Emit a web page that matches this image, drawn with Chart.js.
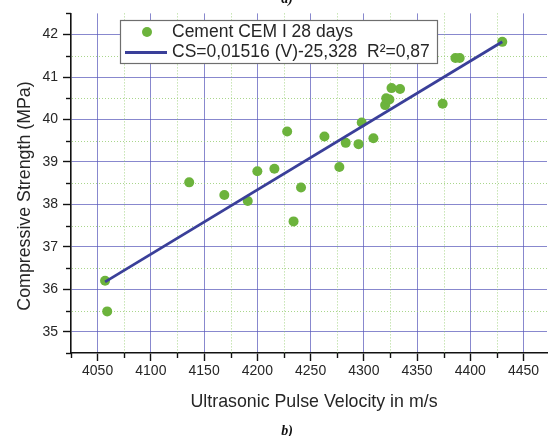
<!DOCTYPE html>
<html>
<head>
<meta charset="utf-8">
<script src="https://cdn.jsdelivr.net/npm/chart.js@4/dist/chart.umd.min.js"></script>
<style>
  html, body { margin: 0; padding: 0; background: #ffffff; }
  #wrap { width: 552px; height: 436px; }
</style>
</head>
<body>
<div id="wrap"><canvas id="c" width="552" height="436"></canvas></div>
<script>
// Ultrasonic pulse velocity (m/s) and 28-day compressive strength (MPa)
const velocity = [4057, 4059, 4136, 4169, 4191, 4200, 4216, 4228, 4234, 4241,
                  4263, 4277, 4283, 4295, 4298, 4309, 4320, 4321, 4324, 4326,
                  4334, 4374, 4386, 4390, 4430];
const strength = [36.20, 35.48, 38.52, 38.22, 38.08, 38.78, 38.84, 39.72, 37.60, 38.40,
                  39.60, 38.88, 39.45, 39.42, 39.93, 39.56, 40.34, 40.50, 40.47, 40.74,
                  40.72, 40.37, 41.45, 41.45, 41.83];

// Linear fit stated in the legend: CS = 0,01516 (V) - 25,328
const fitSlope = 0.01516;
const fitIntercept = -25.328;
const fitRange = [4057, 4430];

const xTicks = [4050, 4100, 4150, 4200, 4250, 4300, 4350, 4400, 4450];
const yTicks = [35, 36, 37, 38, 39, 40, 41, 42];

const seriesLabels = ['Cement CEM I 28 days', 'CS=0,01516 (V)-25,328  R\u00B2=0,87'];

const FONT = '"Liberation Sans", Arial, sans-serif';
const GREEN = '#6cb33c';
const NAVY = '#3a3f99';
const TEXT = '#262626';

const scatterPts = velocity.map((v, i) => ({ x: v, y: strength[i] }));
const fitPts = fitRange.map(v => ({ x: v, y: fitSlope * v + fitIntercept }));

// Minor (half-step) positions between the labelled ticks
function halfSteps(ticks, lo, hi) {
  const step = ticks[1] - ticks[0];
  const out = [];
  for (let v = ticks[0] - step / 2; v <= hi + 1e-9; v += step) {
    if (v >= lo - 1e-9) out.push(v);
  }
  return out;
}

const minorPlugin = {
  id: 'minorGrid',
  beforeDatasetsDraw(chart) {
    const { ctx, chartArea: a, scales: { x, y } } = chart;
    const mx = halfSteps(xTicks, x.min, x.max);
    const my = halfSteps(yTicks, y.min, y.max);
    ctx.save();
    // dotted green minor grid
    ctx.strokeStyle = 'rgba(140,200,100,0.75)';
    ctx.lineWidth = 1;
    ctx.setLineDash([1, 2]);
    mx.forEach(v => {
      const px = Math.round(x.getPixelForValue(v)) + 0.5;
      if (px <= a.left + 1) return;
      ctx.beginPath(); ctx.moveTo(px, a.top); ctx.lineTo(px, a.bottom); ctx.stroke();
    });
    my.forEach(v => {
      const py = Math.round(y.getPixelForValue(v)) + 0.5;
      if (py >= a.bottom - 1 || py <= a.top + 1) return;
      ctx.beginPath(); ctx.moveTo(a.left + 1, py); ctx.lineTo(a.right, py); ctx.stroke();
    });
    ctx.setLineDash([]);
    // short minor tick marks on the axes
    ctx.strokeStyle = '#111111';
    ctx.lineWidth = 1.4;
    mx.forEach(v => {
      const px = Math.round(x.getPixelForValue(v)) + 0.5;
      ctx.beginPath(); ctx.moveTo(px, a.bottom); ctx.lineTo(px, a.bottom + 5); ctx.stroke();
    });
    my.forEach(v => {
      const py = Math.round(y.getPixelForValue(v)) + 0.5;
      ctx.beginPath(); ctx.moveTo(a.left, py); ctx.lineTo(a.left - 5, py); ctx.stroke();
    });
    ctx.restore();
  }
};

const annotatePlugin = {
  id: 'annotate',
  afterDraw(chart) {
    const { ctx } = chart;
    const ds = chart.data.datasets;
    ctx.save();

    // axis titles
    ctx.fillStyle = TEXT;
    ctx.font = '17.8px ' + FONT;
    ctx.textAlign = 'center';
    ctx.textBaseline = 'middle';
    ctx.fillText('Ultrasonic Pulse Velocity in m/s', 314, 402);
    ctx.save();
    ctx.translate(25, 196);
    ctx.rotate(-Math.PI / 2);
    ctx.fillText('Compressive Strength (MPa)', 0, 0);
    ctx.restore();

    // panel captions
    ctx.font = 'italic bold 14px "Liberation Serif", "Times New Roman", serif';
    ctx.fillStyle = '#111111';
    ctx.textBaseline = 'alphabetic';
    ctx.fillText('b)', 287, 435);
    ctx.fillText('a)', 287, 3);

    // legend box
    const bx = 120.5, by = 20.5, bw = 317, bh = 43;
    ctx.fillStyle = '#ffffff';
    ctx.fillRect(bx, by, bw, bh);
    ctx.strokeStyle = '#6e6e6e';
    ctx.lineWidth = 1.2;
    ctx.strokeRect(bx, by, bw, bh);

    ctx.font = '17.5px ' + FONT;
    ctx.textAlign = 'left';
    ctx.textBaseline = 'middle';
    // row 1: scatter marker
    ctx.fillStyle = ds[1].backgroundColor;
    ctx.beginPath(); ctx.arc(147, 32, 5, 0, Math.PI * 2); ctx.fill();
    ctx.fillStyle = TEXT;
    ctx.fillText(ds[1].label, 172, 32.5);
    // row 2: fit line
    ctx.strokeStyle = ds[0].borderColor;
    ctx.lineWidth = 3;
    ctx.beginPath(); ctx.moveTo(125, 52.5); ctx.lineTo(167, 52.5); ctx.stroke();
    ctx.fillStyle = TEXT;
    ctx.fillText(ds[0].label, 172, 52.5);

    ctx.restore();
  }
};

const gridCommon = {
  color: 'rgba(85,85,185,0.7)',
  lineWidth: 1,
  drawTicks: true,
  tickLength: 8,
  tickColor: '#111111',
  tickWidth: 1.4
};

new Chart(document.getElementById('c'), {
  type: 'scatter',
  data: {
    datasets: [
      {
        label: seriesLabels[1],
        data: fitPts,
        showLine: true,
        borderColor: NAVY,
        borderWidth: 2.8,
        pointRadius: 0,
        pointHoverRadius: 0,
        order: 0
      },
      {
        label: seriesLabels[0],
        data: scatterPts,
        backgroundColor: GREEN,
        borderWidth: 0,
        pointRadius: 5,
        pointHoverRadius: 5,
        order: 1
      }
    ]
  },
  options: {
    responsive: false,
    devicePixelRatio: 1,
    animation: false,
    layout: { padding: { top: 13, right: 0, bottom: 0, left: 0 } },
    plugins: {
      legend: { display: false },
      tooltip: { enabled: false }
    },
    scales: {
      x: {
        type: 'linear',
        position: 'bottom',
        min: 4025,
        max: 4472,
        afterBuildTicks: s => { s.ticks = xTicks.map(v => ({ value: v })); },
        afterFit: s => { s.height = 83; },
        grid: gridCommon,
        border: { color: '#111111', width: 1.6 },
        ticks: {
          font: { family: FONT, size: 14 },
          color: TEXT,
          padding: 2,
          maxRotation: 0,
          autoSkip: false,
          callback: v => String(v)
        }
      },
      y: {
        type: 'linear',
        min: 34.5,
        max: 42.5,
        afterBuildTicks: s => { s.ticks = yTicks.map(v => ({ value: v })); },
        afterFit: s => { s.width = 71; },
        grid: gridCommon,
        border: { color: '#111111', width: 1.6 },
        ticks: {
          font: { family: FONT, size: 14 },
          color: TEXT,
          padding: 5,
          autoSkip: false,
          callback: v => String(v)
        }
      }
    }
  },
  plugins: [minorPlugin, annotatePlugin]
});
</script>
</body>
</html>
